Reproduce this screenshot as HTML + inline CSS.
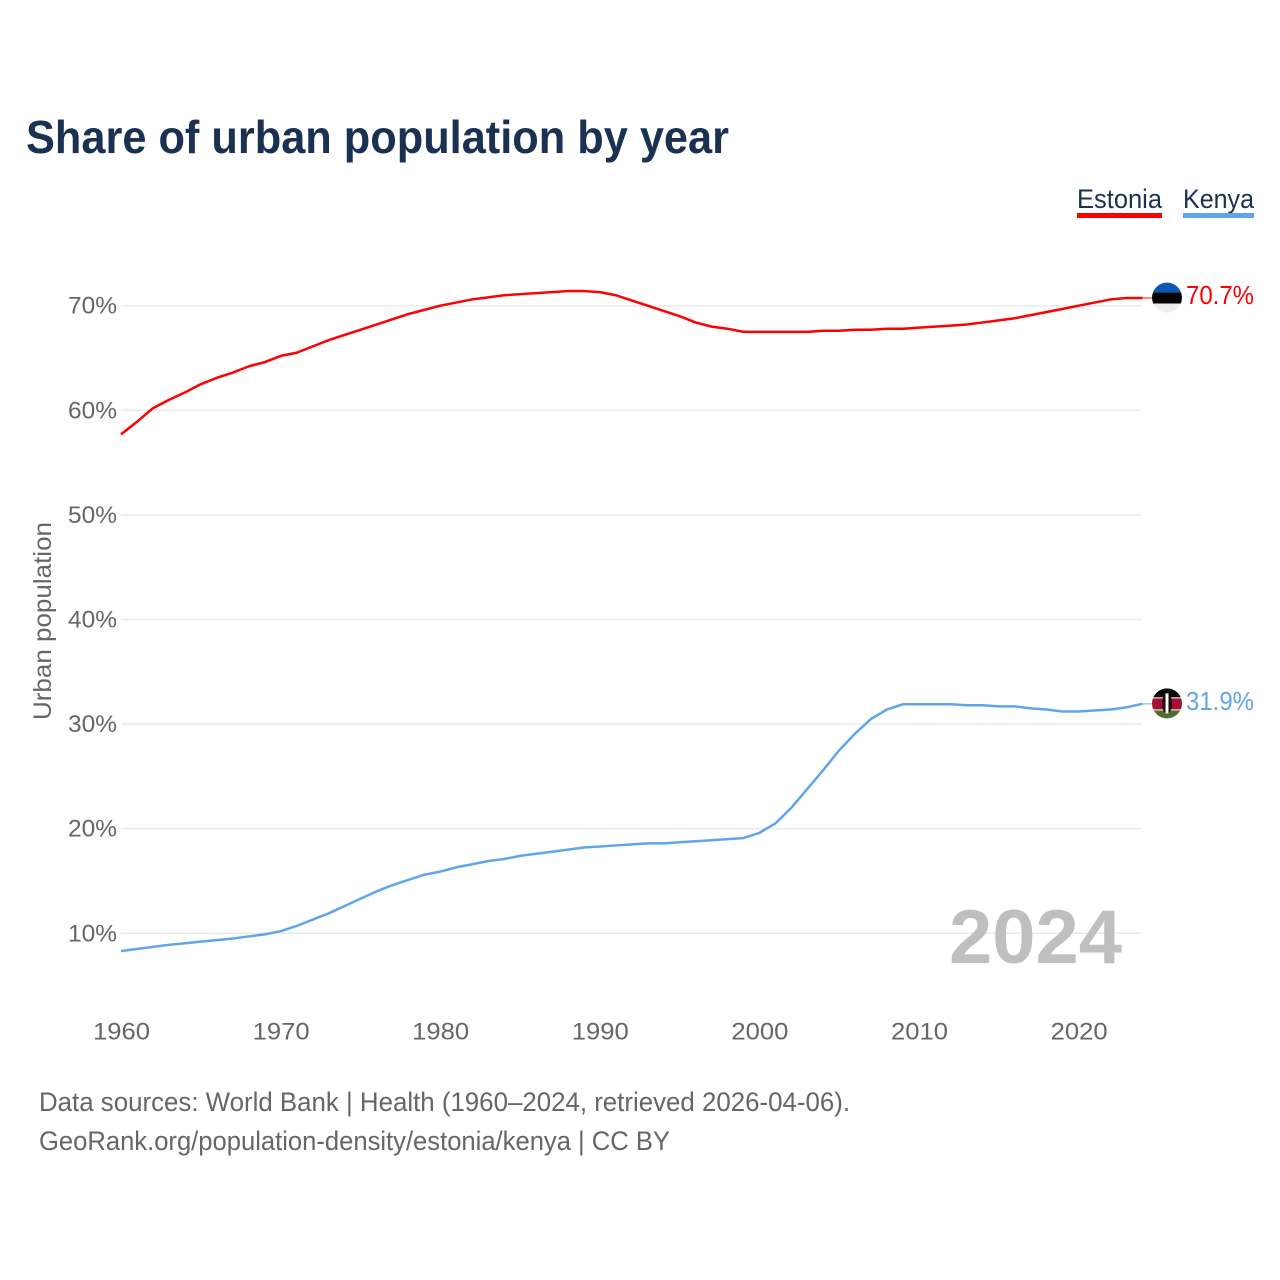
<!DOCTYPE html>
<html lang="en">
<head>
<meta charset="utf-8">
<title>Share of urban population by year</title>
<style>
html,body{margin:0;padding:0;background:#fff;width:1280px;height:1280px;overflow:hidden}
svg{display:block}
text{font-family:"Liberation Sans",sans-serif}
.tick{font-size:24.5px;fill:#666}
.foot{font-size:26.5px;fill:#666}
.leg{font-size:27px;fill:#1a3152}
.val{font-size:26px}
</style>
</head>
<body>
<svg id="chart" xmlns="http://www.w3.org/2000/svg" width="1280" height="1280" viewBox="0 0 1280 1280">
  <rect x="0" y="0" width="1280" height="1280" fill="#fff"/>
  <text x="26" y="153" font-size="46" font-weight="700" fill="#1a3152" textLength="703" lengthAdjust="spacingAndGlyphs">Share of urban population by year</text>

  <g>
    <text class="leg" x="1077" y="208" textLength="85" lengthAdjust="spacingAndGlyphs">Estonia</text>
    <rect x="1077" y="213" width="85" height="5" fill="#ff0000"/>
  </g>
  <g>
    <text class="leg" x="1183" y="208" textLength="71" lengthAdjust="spacingAndGlyphs">Kenya</text>
    <rect x="1183" y="213" width="71" height="5" fill="#60a5ec"/>
  </g>

  <g id="grid"></g>
  <g id="yticks"></g>
  <g id="xticks"></g>

  <text transform="translate(51 720) rotate(-90)" x="0" y="0" font-size="25" fill="#666" textLength="198" lengthAdjust="spacingAndGlyphs">Urban population</text>

  <text x="949" y="963" font-size="76" font-weight="700" fill="#bfbfbf" textLength="173" lengthAdjust="spacingAndGlyphs">2024</text>

  <g id="series"></g>

  <g id="flag-estonia">
    <clipPath id="clip-ee"><circle cx="0" cy="0" r="15"/></clipPath>
    <g clip-path="url(#clip-ee)">
      <rect x="-15" y="-15" width="30" height="10" fill="#0a58b4"/>
      <rect x="-15" y="-5" width="30" height="11" fill="#000"/>
      <rect x="-15" y="6" width="30" height="10" fill="#eeeeee"/>
    </g>
  </g>
  <g id="flag-kenya">
    <clipPath id="clip-ke"><circle cx="0" cy="0" r="15"/></clipPath>
    <g clip-path="url(#clip-ke)">
      <rect x="-15" y="-15" width="30" height="9" fill="#0a0a0a"/>
      <rect x="-15" y="-6" width="30" height="13" fill="#fff"/>
      <rect x="-15" y="-5" width="30" height="11" fill="#a51030"/>
      <rect x="-15" y="7" width="30" height="9" fill="#4d7030"/>
      <ellipse cx="0" cy="0" rx="5" ry="10" fill="#1a0a0a"/>
      <rect x="-1.5" y="-10" width="3" height="20" fill="#fff"/>
    </g>
  </g>
  <text id="val-estonia" class="val" x="1186" fill="#ff0000" textLength="68" lengthAdjust="spacingAndGlyphs"></text>
  <text id="val-kenya" class="val" x="1186" fill="#60a5ec" textLength="68" lengthAdjust="spacingAndGlyphs"></text>

  <text class="foot" x="39" y="1111" textLength="811" lengthAdjust="spacingAndGlyphs">Data sources: World Bank | Health (1960–2024, retrieved 2026-04-06).</text>
  <text class="foot" x="39" y="1150" textLength="631" lengthAdjust="spacingAndGlyphs">GeoRank.org/population-density/estonia/kenya | CC BY</text>
</svg>
<script>
const startYear = 1960;
const yTicks = [10, 20, 30, 40, 50, 60, 70];
const xTicks = [1960, 1970, 1980, 1990, 2000, 2010, 2020];
const estonia = [57.7,58.9,60.2,61.0,61.7,62.5,63.1,63.6,64.2,64.6,65.2,65.5,66.1,66.7,67.2,67.7,68.2,68.7,69.2,69.6,70.0,70.3,70.6,70.8,71.0,71.1,71.2,71.3,71.4,71.4,71.3,71.0,70.5,70.0,69.5,69.0,68.4,68.0,67.8,67.5,67.5,67.5,67.5,67.5,67.6,67.6,67.7,67.7,67.8,67.8,67.9,68.0,68.1,68.2,68.4,68.6,68.8,69.1,69.4,69.7,70.0,70.3,70.6,70.74,70.74];
const kenya = [8.3,8.5,8.7,8.9,9.05,9.2,9.35,9.5,9.7,9.9,10.2,10.7,11.3,11.9,12.6,13.3,14.0,14.6,15.1,15.6,15.9,16.3,16.6,16.9,17.1,17.4,17.6,17.8,18.0,18.2,18.3,18.4,18.5,18.6,18.6,18.7,18.8,18.9,19.0,19.1,19.6,20.5,22.0,23.8,25.6,27.5,29.1,30.5,31.4,31.9,31.9,31.9,31.9,31.8,31.8,31.7,31.7,31.5,31.4,31.2,31.2,31.3,31.4,31.6,31.94];

const NS = 'http://www.w3.org/2000/svg';
function xScale(year) { return 121 + (year - startYear) * 15.96; }
function yScale(v) { return 933.3 - (v - 10) * 10.46; }

const grid = document.getElementById('grid');
const yG = document.getElementById('yticks');
const xG = document.getElementById('xticks');
const seriesG = document.getElementById('series');
const gridEnd = 1142;

yTicks.forEach(function (t) {
  const y = yScale(t);
  const line = document.createElementNS(NS, 'line');
  
  
  line.setAttribute('x1', 121);
  line.setAttribute('x2', gridEnd);
  line.setAttribute('y1', y);
  line.setAttribute('y2', y);
  line.setAttribute('stroke', '#ebebeb');
  line.setAttribute('stroke-width', '1.5');
  grid.appendChild(line);

  const label = document.createElementNS(NS, 'text');
  
  
  label.setAttribute('class', 'tick');
  label.setAttribute('x', 68);
  label.setAttribute('y', y + 8);
  label.setAttribute('textLength', 49);
  label.setAttribute('lengthAdjust', 'spacingAndGlyphs');
  label.textContent = t + '%';
  yG.appendChild(label);
});

xTicks.forEach(function (t) {
  const label = document.createElementNS(NS, 'text');
  
  
  label.setAttribute('class', 'tick');
  label.setAttribute('x', xScale(t) - 28);
  label.setAttribute('y', 1039.5);
  label.setAttribute('textLength', 57);
  label.setAttribute('lengthAdjust', 'spacingAndGlyphs');
  label.textContent = t;
  xG.appendChild(label);
});

function drawSeries(values, color, key) {
  const d = values.map(function (v, i) {
    return (i ? 'L' : 'M') + xScale(startYear + i).toFixed(2) + ' ' + yScale(v).toFixed(2);
  }).join(' ');
  const path = document.createElementNS(NS, 'path');
  
  
  path.setAttribute('d', d);
  path.setAttribute('fill', 'none');
  path.setAttribute('stroke', color);
  path.setAttribute('stroke-width', '2.5');
  path.setAttribute('stroke-linejoin', 'round');
  seriesG.appendChild(path);

  const last = values[values.length - 1];
  const yEnd = yScale(last);
  const xEnd = xScale(startYear + values.length - 1);

  const conn = document.createElementNS(NS, 'line');
  
  
  conn.setAttribute('x1', xEnd);
  conn.setAttribute('x2', 1152);
  conn.setAttribute('y1', yEnd);
  conn.setAttribute('y2', yEnd);
  conn.setAttribute('stroke', color);
  conn.setAttribute('stroke-width', '1.5');
  conn.setAttribute('opacity', '0.6');
  seriesG.appendChild(conn);

  document.getElementById('flag-' + key).setAttribute('transform', 'translate(1167 ' + (yEnd - 0.4).toFixed(2) + ')');
  const val = document.getElementById('val-' + key);
  val.setAttribute('y', (yEnd + 6).toFixed(2));
  val.textContent = last.toFixed(1) + '%';
}
drawSeries(estonia, '#ff0000', 'estonia');
drawSeries(kenya, '#60a5ec', 'kenya');
</script>
</body>
</html>
